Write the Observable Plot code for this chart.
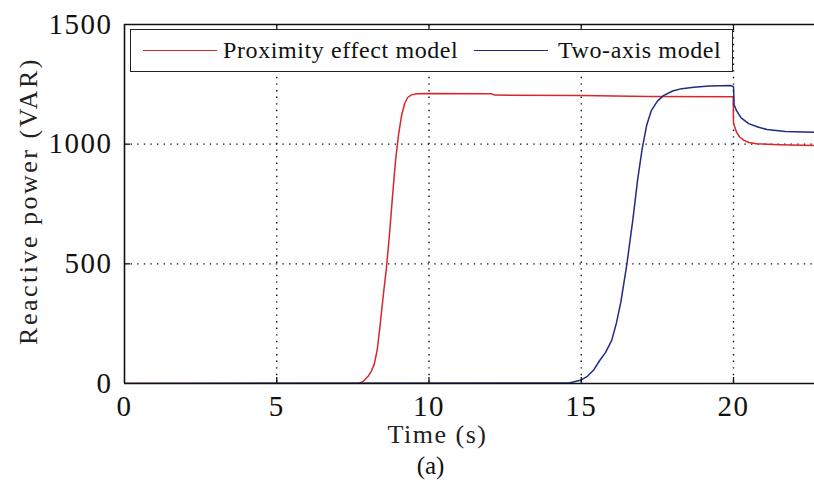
<!DOCTYPE html>
<html>
<head>
<meta charset="utf-8">
<script src="https://cdn.jsdelivr.net/npm/d3@7"></script>
<script src="https://cdn.jsdelivr.net/npm/@observablehq/plot@0.6"></script>
<style>
  html, body { margin: 0; padding: 0; background: #fff; }
  #wrap { position: relative; width: 814px; height: 492px; font-family: "Liberation Serif", serif; }
  #legend { position: absolute; left: 130px; top: 29px; width: 603px; height: 43px; box-sizing: border-box;
            border: 1.6px solid #222; background: #fff; font-size: 24px; letter-spacing: 0.6px; color: #111; }
  #legend .sw { position: absolute; top: 20px; height: 0; border-top: 1.6px solid; }
  #legend .lb { position: absolute; top: 6px; line-height: 28px; white-space: nowrap; }
</style>
</head>
<body>
<div id="wrap"></div>
<script>
// ---- data ----
const xTicks = [0, 5, 10, 15, 20];
const yTicks = [0, 500, 1000, 1500];
const xDomain = [0, 22.66];
const yDomain = [0, 1500];

const seriesNames = ["Proximity effect model", "Two-axis model"];
const seriesColors = ["#d8272c", "#1f2d80"];

// Proximity effect model (red)
const proxTime  = [0, 7.7, 7.85, 8.0, 8.1, 8.2, 8.3, 8.4, 8.5, 8.6, 8.7, 8.8, 8.9, 9.0, 9.1, 9.2, 9.3, 9.42, 9.6, 10, 12.05, 12.15, 15, 17.2, 19.99, 20.0, 20.02, 20.1, 20.2, 20.35, 20.5, 20.75, 21.5, 22.66];
const proxPower = [0, 0, 10, 30, 50, 80, 140, 250, 370, 480, 620, 780, 930, 1040, 1120, 1170, 1195, 1206, 1211, 1212, 1211, 1205, 1203, 1199, 1198, 1090, 1080, 1050, 1030, 1016, 1007, 1002, 998, 994];

// Two-axis model (blue)
const twoTime  = [0, 14.6, 15.0, 15.2, 15.4, 15.6, 15.8, 16.0, 16.15, 16.3, 16.5, 16.7, 16.85, 17.0, 17.15, 17.3, 17.5, 17.7, 18.0, 18.3, 18.7, 19.2, 19.9, 20.0, 20.02, 20.1, 20.25, 20.5, 20.8, 21.1, 21.7, 22.66];
const twoPower = [0, 2, 15, 30, 55, 95, 130, 180, 250, 340, 500, 690, 850, 980, 1080, 1140, 1180, 1203, 1222, 1232, 1238, 1243, 1245, 1240, 1165, 1140, 1110, 1086, 1072, 1061, 1053, 1050];

// ---- build tables ----
const prox = proxTime.map((t, i) => ({t, v: proxPower[i]}));
const two = twoTime.map((t, i) => ({t, v: twoPower[i]}));

const W = 814, H = 492, mL = 124, mR = 0, mT = 24, mB = 109;
const innerW = W - mL - mR, innerH = H - mT - mB;
const font = "Liberation Serif";
const gridX = xTicks.filter(d => d > xDomain[0]);
const gridY = yTicks.filter(d => d > yDomain[0] && d < yDomain[1]);
const dots = {stroke: "#111", strokeWidth: 1.4, strokeDasharray: "1.4,5.2"};

const svg = Plot.plot({
  width: W, height: H,
  marginLeft: mL, marginRight: mR, marginTop: mT, marginBottom: mB,
  style: {fontFamily: font, background: "white", color: "#111"},
  x: {domain: xDomain, ticks: xTicks},
  y: {domain: yDomain, ticks: yTicks},
  marks: [
    Plot.ruleX(gridX, dots),
    Plot.ruleY(gridY, dots),
    Plot.line(prox, {x: "t", y: "v", stroke: seriesColors[0], strokeWidth: 1.5, clip: true}),
    Plot.line(two, {x: "t", y: "v", stroke: seriesColors[1], strokeWidth: 1.5, clip: true}),
    // frame (left, top, bottom; right side is cut off)
    Plot.ruleX([xDomain[0]], {stroke: "#111", strokeWidth: 1.6}),
    Plot.ruleY([yDomain[0]], {stroke: "#111", strokeWidth: 1.6}),
    Plot.ruleY([yDomain[1]], {stroke: "#111", strokeWidth: 1.6}),
    // inward tick marks
    Plot.ruleX(gridX, {insetTop: innerH - 6, stroke: "#111", strokeWidth: 1.3}),
    Plot.ruleX(gridX, {insetBottom: innerH - 6, stroke: "#111", strokeWidth: 1.3}),
    Plot.ruleY(gridY, {insetRight: innerW - 6, stroke: "#111", strokeWidth: 1.3}),
    // tick labels
    Plot.axisX(xTicks, {tickSize: 0, tickPadding: 12, fontSize: 29, label: null, tickFormat: d => String(d)}),
    Plot.axisY(yTicks, {tickSize: 0, tickPadding: 12, fontSize: 29, label: null, tickFormat: d => String(d)}),
    // titles
    Plot.text(["Time (s)"], {frameAnchor: "bottom", dx: -32, dy: 59, fontSize: 26, fill: "#222"}),
    Plot.text(["Reactive power (VAR)"], {frameAnchor: "left", textAnchor: "middle", rotate: -90, dx: -96, dy: -3, fontSize: 26, fill: "#222"}),
    Plot.text(["(a)"], {frameAnchor: "bottom", dx: -39, dy: 90, fontSize: 25, fill: "#111"})
  ]
});

const S = d3.select(svg);
S.selectAll('g[aria-label="x-axis tick label"] text, g[aria-label="y-axis tick label"] text').style("letter-spacing", "1.5px");
S.selectAll("g[aria-label='text'] text").each(function() {
  const t = this.textContent;
  if (t === "Time (s)") d3.select(this).style("letter-spacing", "1.5px");
  if (t === "Reactive power (VAR)") d3.select(this).style("letter-spacing", "2.5px");
});

const wrap = document.getElementById("wrap");
wrap.appendChild(svg);

// legend box drawn over the plot area
const legend = document.createElement("div");
legend.id = "legend";
const items = [
  {name: seriesNames[0], color: seriesColors[0], sw: 12, lb: 92},
  {name: seriesNames[1], color: seriesColors[1], sw: 343, lb: 427}
];
for (const it of items) {
  const s = document.createElement("div");
  s.className = "sw";
  s.style.left = it.sw + "px";
  s.style.width = "74px";
  s.style.borderTopColor = it.color;
  legend.appendChild(s);
  const l = document.createElement("div");
  l.className = "lb";
  l.style.left = it.lb + "px";
  l.textContent = it.name;
  legend.appendChild(l);
}
wrap.appendChild(legend);
</script>
</body>
</html>
